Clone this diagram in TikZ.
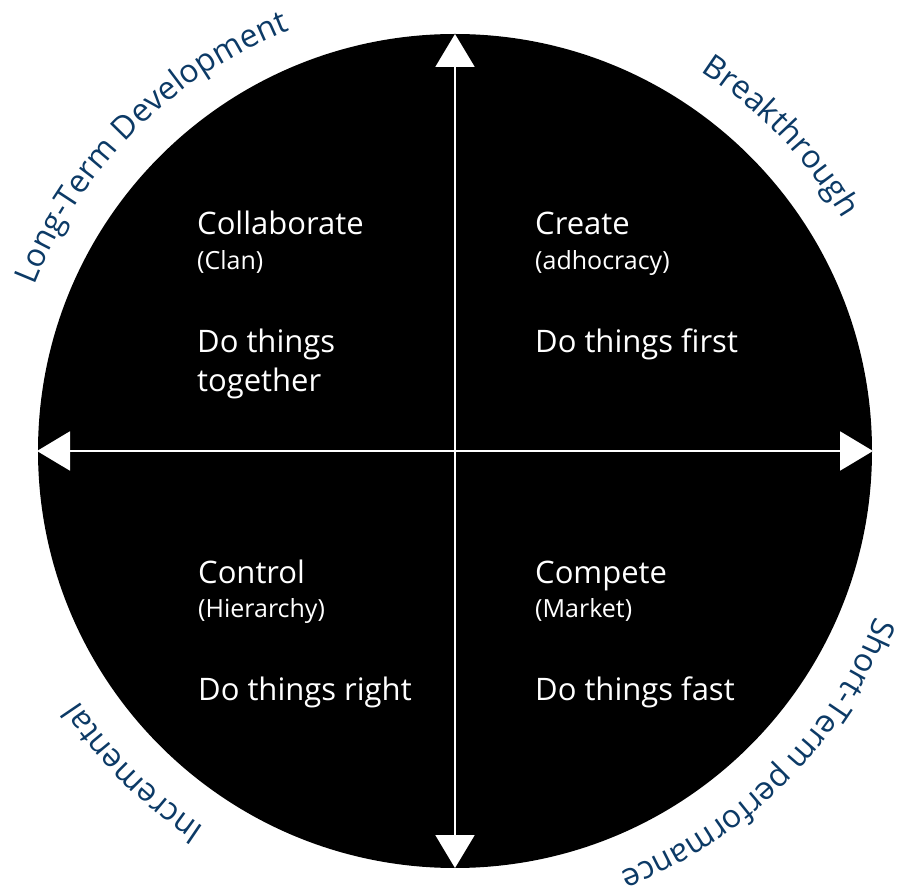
\documentclass[tikz,border=0pt]{standalone}
\usepackage{fontspec}
\setmainfont{Open Sans}
\usetikzlibrary{arrows.meta,decorations.text}
\definecolor{lblue}{RGB}{12,58,102}
\newcommand{\labfont}{\fontsize{32}{34}\selectfont}
\tikzset{
  axis/.style={draw=white, line width=2pt, {Triangle[length=33pt,width=39pt,fill=white]}-{Triangle[length=33pt,width=39pt,fill=white]}},
  headtxt/.style={anchor=base west, text=white, font=\fontsize{31}{36}\selectfont, inner sep=0pt},
  subtxt/.style={anchor=base west, text=white, font=\fontsize{25}{28}\selectfont, inner sep=0pt},
  bodytxt/.style={anchor=base west, text=white, font=\fontsize{31}{37}\selectfont, inner sep=0pt, align=left},
  arclabel/.style={decorate, decoration={text along path, text align=center, text color=lblue}}
}
\begin{document}
\begin{tikzpicture}[x=1pt,y=1pt]
\useasboundingbox (0,0) rectangle (900,895);
\coordinate (c) at (455,444);
\fill[black] (c) circle[radius=417];
\coordinate (top) at (455,861);
\coordinate (bot) at (455,27);
\coordinate (lft) at (37,444);
\coordinate (rgt) at (873,444);
\draw[axis] (bot) -- (top);
\draw[axis] (lft) -- (rgt);
% quadrant texts
\node[headtxt] (q1h) at (197,660) {Collaborate};
\node[subtxt] (q1s) at (197,625) {(Clan)};
\node[bodytxt] (q1b) at (197,542) {Do things};
\node[bodytxt] (q1c) at (197,503) {together};
\node[headtxt] (q2h) at (535,660) {Create};
\node[subtxt] (q2s) at (535,625) {(adhocracy)};
\node[bodytxt] (q2b) at (535,542) {Do things first};
\node[headtxt] (q3h) at (198,311) {Control};
\node[subtxt] (q3s) at (198,277) {(Hierarchy)};
\node[bodytxt] (q3b) at (198,194) {Do things right};
\node[headtxt] (q4h) at (535,311) {Compete};
\node[subtxt] (q4s) at (535,277) {(Market)};
\node[bodytxt] (q4b) at (535,194) {Do things fast};
% curved labels
\path[arclabel, decoration={text={|\labfont|Long-Term Development}}]
  (c) ++(175:452) arc[start angle=175, end angle=95, radius=452];
\path[arclabel, decoration={text={|\labfont|Breakthrough}}]
  (c) ++(84:452) arc[start angle=84, end angle=4, radius=452];
\path[arclabel, decoration={text={|\labfont|Short-Term performance}}]
  (c) ++(-5:452) arc[start angle=-5, end angle=-85, radius=452];
\path[arclabel, decoration={text={|\labfont|Incremental}}]
  (c) ++(-95:452) arc[start angle=-95, end angle=-175, radius=452];
\end{tikzpicture}
\end{document}
